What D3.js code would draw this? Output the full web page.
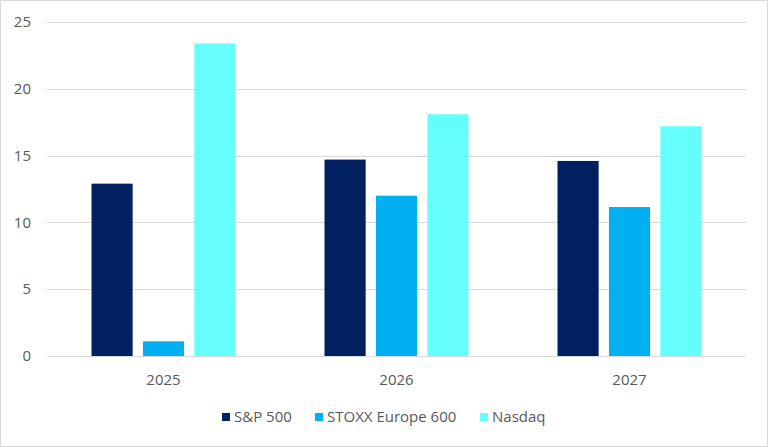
<!DOCTYPE html>
<html>
<head>
<meta charset="utf-8">
<script src="https://cdn.jsdelivr.net/npm/d3@7"></script>
<style>
body { margin: 0; background: #fff; }
text { font-family: "Open Sans", "Noto Sans", sans-serif; fill: #595959; }
</style>
</head>
<body>
<svg id="chart" width="768" height="447"></svg>
<script>
var years = ["2025", "2026", "2027"];
var series = ["S&P 500", "STOXX Europe 600", "Nasdaq"];
var sp500 = [12.9, 14.7, 14.6];
var stoxx = [1.1, 12.0, 11.15];
var nasdaq = [23.4, 18.1, 17.2];
var yTicks = [0, 5, 10, 15, 20, 25];
var colors = ["#002060", "#00b0f0", "#66ffff"];

var values = [sp500, stoxx, nasdaq];
var svg = d3.select("#chart");

// outer frame
svg.append("rect")
    .attr("x", 0.5).attr("y", 0.5)
    .attr("width", 767).attr("height", 446)
    .attr("fill", "none").attr("stroke", "#d9d9d9");

var plotL = 47, plotR = 746, plotT = 22, plotB = 356;

var y = d3.scaleLinear().domain([0, 25]).range([plotB, plotT]);
var x0 = d3.scaleBand().domain(years).range([plotL, plotR])
    .paddingInner(0.382).paddingOuter(0.191);
var x1 = d3.scaleBand().domain(series).range([0, x0.bandwidth()])
    .paddingInner(0.2);

// grid
svg.append("g").selectAll("line")
    .data(yTicks)
    .enter().append("line")
    .attr("x1", plotL).attr("x2", plotR)
    .attr("y1", d => Math.round(y(d)) + 0.5)
    .attr("y2", d => Math.round(y(d)) + 0.5)
    .attr("stroke", "#d9d9d9").attr("stroke-width", 1);

// y labels
svg.append("g").selectAll("text")
    .data(yTicks)
    .enter().append("text")
    .attr("x", 31).attr("y", d => y(d))
    .attr("dy", "0.35em")
    .attr("text-anchor", "end")
    .style("font-size", "15px")
    .text(d => d);

// bars
var groups = svg.append("g").selectAll("g")
    .data(years)
    .enter().append("g")
    .attr("transform", d => "translate(" + x0(d) + ",0)");

groups.selectAll("rect")
    .data((d, i) => series.map((s, j) => ({ s: s, v: values[j][i], c: colors[j] })))
    .enter().append("rect")
    .attr("x", d => x1(d.s))
    .attr("width", x1.bandwidth())
    .attr("y", d => y(d.v))
    .attr("height", d => y(0) - y(d.v))
    .attr("fill", d => d.c);

// x labels
svg.append("g").selectAll("text")
    .data(years)
    .enter().append("text")
    .attr("x", d => x0(d) + x0.bandwidth() / 2)
    .attr("y", 385)
    .attr("text-anchor", "middle")
    .style("font-size", "15px")
    .text(d => d);

// legend
var legendX = [222, 315, 480];
var legend = svg.append("g").selectAll("g")
    .data(series)
    .enter().append("g")
    .attr("transform", (d, i) => "translate(" + legendX[i] + ",417)");
legend.append("rect")
    .attr("x", 0).attr("y", -4)
    .attr("width", 8).attr("height", 8)
    .attr("fill", (d, i) => colors[i]);
legend.append("text")
    .attr("x", 12).attr("y", 0)
    .attr("dy", "0.35em")
    .style("font-size", "15px")
    .text(d => d);
</script>
</body>
</html>
